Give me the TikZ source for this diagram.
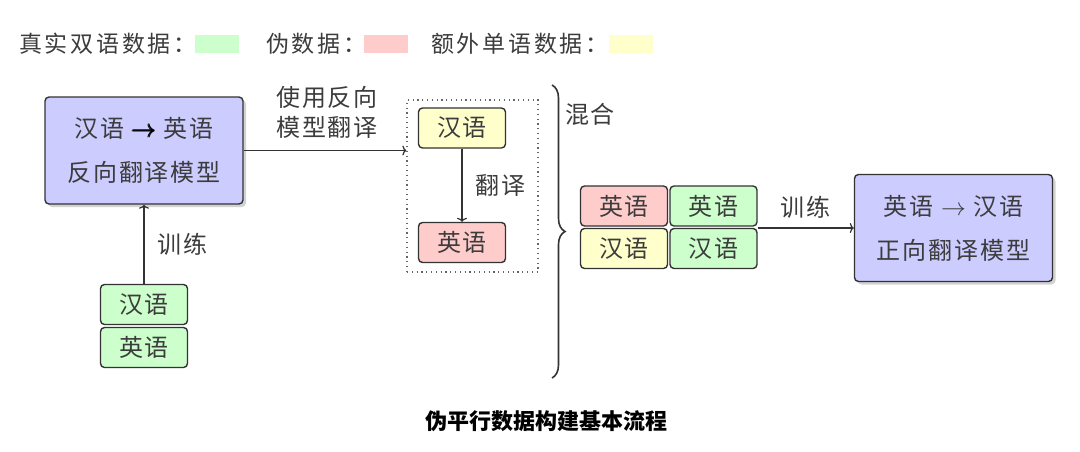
\documentclass[tikz,border=0pt]{standalone}
\usepackage{amsmath}
\usepackage{fontspec}
\setmainfont{Noto Sans CJK SC}
\newfontfamily\spcjk[LetterSpace=8]{Noto Sans CJK SC}
\newfontfamily\legcjk[LetterSpace=12]{Noto Sans CJK SC}
\usetikzlibrary{shadows,decorations.pathreplacing,arrows.meta}
\definecolor{bluef}{HTML}{CCCCFF}
\definecolor{greenf}{HTML}{CCFFCC}
\definecolor{redf}{HTML}{FFCCCC}
\definecolor{yellowf}{HTML}{FFFFCC}
\definecolor{txtgray}{HTML}{3C3C3C}
\definecolor{linegray}{HTML}{333333}
\begin{document}
\begin{tikzpicture}[x=1pt,y=-1pt,
  txt/.style={text=txtgray,font=\spcjk\fontsize{24}{30}\selectfont,inner sep=0pt},
  legtxt/.style={text=txtgray,font=\legcjk\fontsize{23}{30}\selectfont,inner sep=0pt},
  box/.style={draw=linegray,line width=1.4pt,rounded corners=4pt,inner sep=0pt,
    text=txtgray,font=\spcjk\fontsize{24}{30}\selectfont},
  small/.style={box,minimum width=87pt,minimum height=40pt},
  model/.style={box,minimum width=198pt,minimum height=107pt,fill=bluef,align=center,
    drop shadow={shadow xshift=3pt,shadow yshift=-3pt,fill=black!35}},
  conn/.style={draw=linegray,line width=1.2pt,-{To[length=4pt,width=10pt]}},
  swatch/.style={inner sep=0pt,minimum width=44pt,minimum height=18pt}]
\useasboundingbox (0,0) rectangle (1080,451);
% legend
\node[legtxt,anchor=west] (l1) at (19,44) {真实双语数据：};
\node[swatch,fill=greenf] (s1) at (217,44) {};
\node[legtxt,anchor=west] (l2) at (266,44) {伪数据：};
\node[swatch,fill=redf] (s2) at (386,44) {};
\node[legtxt,anchor=west] (l3) at (431,44) {额外单语数据：};
\node[swatch,fill=yellowf] (s3) at (631,44) {};
% backward model
\node[model] (bm) at (144,150.5) {汉语 \textcolor{black}{$\pmb{\rightarrow}$} 英语\\[14pt]反向翻译模型};
\node[small,fill=greenf] (p1) at (144,304.5) {汉语};
\node[small,fill=greenf] (p2) at (144,347.5) {英语};
\draw[conn] (p1.north) -- node[txt,right=13pt] (t1) {训练} (bm.south);
% translation group
\node[draw=linegray!75,line width=1.3pt,dash pattern=on 1.2pt off 3.6pt,minimum width=131pt,minimum height=172pt,inner sep=0pt] (grp) at (472.5,186) {};
\node[small,fill=yellowf] (ya) at (462,128) {汉语};
\node[small,fill=redf] (ra) at (462,242.5) {英语};
\draw[conn] (ya.south) -- node[txt,right=13pt] (t2) {翻译} (ra.north);
\draw[conn] (bm.east) -- (bm.east -| grp.west);
\node[txt,align=center] (t3) at (327,112) {使用反向\\模型翻译};
% brace
\draw[linegray,line width=1.6pt,decorate,decoration={brace,amplitude=13pt}] (552,85) coordinate (b1) -- (552,378) coordinate (b2);
\node[txt] (t4) at (590,114) {混合};
% mixed data
\node[small,fill=redf] (e1) at (624,206) {英语};
\node[small,fill=greenf] (e2) at (713.5,206) {英语};
\node[small,fill=yellowf] (z1) at (624,248.5) {汉语};
\node[small,fill=greenf] (z2) at (713.5,248.5) {汉语};
% forward model
\node[model] (fm) at (953.5,228) {英语 $\rightarrow$ 汉语\\[14pt]正向翻译模型};
\draw[conn] (e2.east |- fm.west) -- node[txt,above=9pt] (t5) {训练} (fm.west);
% caption
\node[inner sep=0pt,font=\fontsize{22}{26}\selectfont\bfseries] (cap) at (546,421) {伪平行数据构建基本流程};
\end{tikzpicture}
\end{document}
